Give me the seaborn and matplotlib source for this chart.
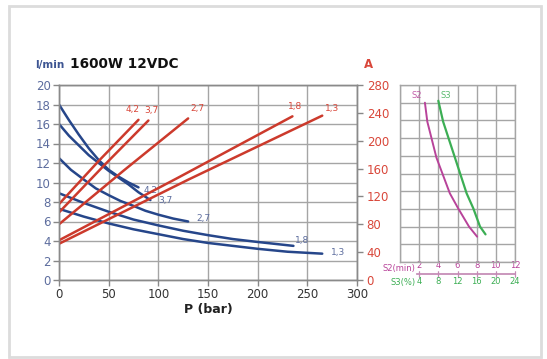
import numpy as np
import pandas as pd
import matplotlib
matplotlib.use("Agg")
import matplotlib.pyplot as plt
from matplotlib.patches import Rectangle
import seaborn as sns

# ---------------- data ----------------
ratios = ["4,2", "3,7", "2,7", "1,8", "1,3"]

# flow (l/min) vs pressure (bar)
flow_p = {
    "4,2": [0, 10, 20, 30, 40, 50, 60, 70, 80],
    "3,7": [0, 10, 20, 30, 40, 50, 60, 70, 80, 92],
    "2,7": [0, 12, 25, 37, 50, 62, 75, 87, 100, 115, 130],
    "1,8": [0, 25, 50, 75, 100, 125, 150, 175, 200, 236],
    "1,3": [0, 25, 50, 75, 100, 125, 150, 175, 200, 230, 265],
}
flow_q = {
    "4,2": [18.0, 16.4, 14.9, 13.5, 12.3, 11.3, 10.6, 10.0, 9.5],
    "3,7": [16.0, 14.8, 13.8, 12.8, 12.0, 11.2, 10.5, 9.8, 9.0, 8.2],
    "2,7": [12.5, 11.3, 10.3, 9.4, 8.7, 8.1, 7.6, 7.1, 6.7, 6.3, 6.0],
    "1,8": [8.9, 7.9, 7.0, 6.2, 5.6, 5.05, 4.6, 4.2, 3.9, 3.5],
    "1,3": [7.3, 6.5, 5.8, 5.2, 4.7, 4.2, 3.8, 3.5, 3.2, 2.9, 2.7],
}
# current (A) vs pressure (bar)
amp_p = {
    "4,2": [0, 40, 80],
    "3,7": [0, 45, 90],
    "2,7": [0, 65, 130],
    "1,8": [0, 120, 235],
    "1,3": [0, 130, 265],
}
amp_a = {
    "4,2": [109, 171, 230],
    "3,7": [97, 164, 229],
    "2,7": [80, 157, 232],
    "1,8": [57, 147, 235],
    "1,3": [52, 144, 236],
}
# duty chart
s2_min = [2.6, 2.85, 3.8, 5.2, 6.07, 7.2, 8.05]
s2_y = [9.0, 7.93, 5.9, 3.88, 3.03, 2.0, 1.43]
s3_pct = [8.0, 9.0, 11.46, 13.9, 15.3, 16.7, 17.85]
s3_y = [9.11, 7.93, 5.9, 3.88, 3.03, 2.0, 1.56]

p_ticks = [0, 50, 100, 150, 200, 250, 300]
q_ticks = list(range(0, 21, 2))
a_ticks = list(range(0, 281, 40))
s2_ticks = [2, 4, 6, 8, 10, 12]
s3_ticks = [4, 8, 12, 16, 20, 24]

# ---------------- style ----------------
sns.set_theme(style="white")
plt.rcParams["font.family"] = ["DejaVu Sans"]

BLUE = "#26468a"
BLUE_T = "#5d6d9e"
RED = "#cc3a2c"
RED_T = "#d9473a"
GRID = "#a5a5a5"
MAG = "#b8439a"
GRN = "#3cae54"

W, H = 547, 359
fig = plt.figure(figsize=(W / 100, H / 100), dpi=100)
fig.patch.set_facecolor("white")

def fx(px):
    return px / W

def fy(py):
    return 1 - py / H

ax = fig.add_axes([fx(59), fy(280), fx(357) - fx(59), fy(85) - fy(280)])
axr = ax.twinx()

flow_df = pd.concat([pd.DataFrame({"P": flow_p[r], "Q": flow_q[r], "ratio": r}) for r in ratios])
amp_df = pd.concat([pd.DataFrame({"P": amp_p[r], "A": amp_a[r], "ratio": r}) for r in ratios])

sns.lineplot(data=flow_df, x="P", y="Q", hue="ratio", palette={r: BLUE for r in ratios},
             sort=False, estimator=None, linewidth=1.8, legend=False, ax=ax)
sns.lineplot(data=amp_df, x="P", y="A", hue="ratio", palette={r: RED for r in ratios},
             sort=False, estimator=None, linewidth=1.8, legend=False, ax=axr)

ax.set_xlim(0, 300)
ax.set_ylim(0, 20)
axr.set_ylim(0, 280)
ax.set_xticks(p_ticks)
ax.set_yticks(q_ticks)
axr.set_yticks(a_ticks)
ax.grid(True, color=GRID, linewidth=1)
ax.set_axisbelow(True)
ax.set_xlabel("P (bar)", fontsize=9, fontweight="bold", color="#222222", labelpad=1)
ax.set_ylabel("")
axr.set_ylabel("")
ax.tick_params(axis="x", colors="#888888", labelcolor="#333333", direction="out", length=4, width=1,
               labelsize=8.5, pad=2, bottom=True)
ax.tick_params(axis="y", colors="#888888", labelcolor=BLUE_T, direction="out", length=4, width=1,
               labelsize=8.5, pad=2, left=True)
axr.tick_params(axis="y", colors="#888888", labelcolor=RED_T, direction="out", length=4, width=1,
                labelsize=8.5, pad=3, right=True)
for a in (ax, axr):
    for s in a.spines.values():
        s.set_color("#8a8a8a")
        s.set_linewidth(1)

# curve labels
blue_off = {"4,2": (4, -2), "3,7": (6, 0), "2,7": (6, 2), "1,8": (1, 4), "1,3": (6, 1)}
for r in ratios:
    ax.annotate(r, (flow_p[r][-1], flow_q[r][-1]), xytext=blue_off[r], textcoords="offset points",
                ha="left", va="center", fontsize=6.5, color=BLUE_T)
red_off = {"4,2": (-4, 4), "3,7": (2, 4), "2,7": (7, 4), "1,8": (2, 4), "1,3": (7, 2)}
for r in ratios:
    axr.annotate(r, (amp_p[r][-1], amp_a[r][-1]), xytext=red_off[r], textcoords="offset points",
                 ha="center", va="bottom", fontsize=6.5, color=RED_T)

fig.text(fx(35), fy(65), "l/min", fontsize=7.5, fontweight="bold", color="#3d5592", ha="left", va="center")
fig.text(fx(70), fy(64), "1600W 12VDC", fontsize=9.8, fontweight="bold", color="#111111", ha="left", va="center")
fig.text(fx(369), fy(64), "A", fontsize=8.5, fontweight="bold", color=RED_T, ha="center", va="center")

# ---------------- duty chart ----------------
ax3 = fig.add_axes([fx(400), fy(262), fx(515) - fx(400), fy(85) - fy(262)])
ax3.plot(s2_min, s2_y, color=MAG, linewidth=1.4)
ax3s = ax3.twiny()
sns.lineplot(x=s3_pct, y=s3_y, color=GRN, linewidth=1.6, sort=False, estimator=None, ax=ax3s)
ax3s.set_xlim(0, 24)
ax3s.set_xticks([])
ax3s.axis("off")
ax3.set_xlim(0, 12)
ax3.set_ylim(0, 10)
ax3.set_xticks(range(0, 13, 2))
ax3.set_yticks(range(0, 11))
ax3.grid(True, color=GRID, linewidth=1)
ax3.tick_params(length=0, labelbottom=False, labelleft=False)
for s in ax3.spines.values():
    s.set_color(GRID)
    s.set_linewidth(1)
ax3.text(s2_min[0] - 0.3, s2_y[0] + 0.15, "S2", color=MAG, fontsize=6, ha="right", va="bottom", alpha=0.85)
ax3s.text(s3_pct[0] + 0.5, s3_y[0] + 0.05, "S3", color=GRN, fontsize=6, ha="left", va="bottom", alpha=0.85)

sec = ax3.secondary_xaxis(-0.07)
sec.set_xticks(s2_ticks)
sec.set_xticklabels([str(t) for t in s2_ticks])
sec.xaxis.set_ticks_position("both")
sec.tick_params(axis="x", top=True, bottom=True, labeltop=True, labelbottom=False, direction="inout",
                length=5, width=0.8, color="#c48ab5", labelcolor=MAG, labelsize=6, pad=0.5)
sec.spines["bottom"].set_color("#c48ab5")
sec.spines["bottom"].set_bounds(1.8, 12)
sec.spines["top"].set_visible(False)

sec2 = ax3.secondary_xaxis(-0.07, functions=(lambda x: x * 2, lambda x: x / 2))
sec2.set_xticks(s3_ticks)
sec2.set_xticklabels([str(t) for t in s3_ticks])
sec2.tick_params(axis="x", length=0, labelcolor=GRN, labelsize=6, pad=2)
for s in sec2.spines.values():
    s.set_visible(False)

ax3.text(0.13, -0.035, "S2(min)", transform=ax3.transAxes, color=MAG, fontsize=6, ha="right", va="center")
ax3.text(-0.08, -0.113, "S3(%)", transform=ax3.transAxes, color=GRN, fontsize=6, ha="left", va="center")

# outer frame
fig.patches.append(Rectangle((fx(9), fy(357)), fx(541) - fx(9), fy(6) - fy(357), transform=fig.transFigure,
                             fill=False, edgecolor="#dcdcdc", linewidth=2))

fig.savefig("out.png", dpi=100)
